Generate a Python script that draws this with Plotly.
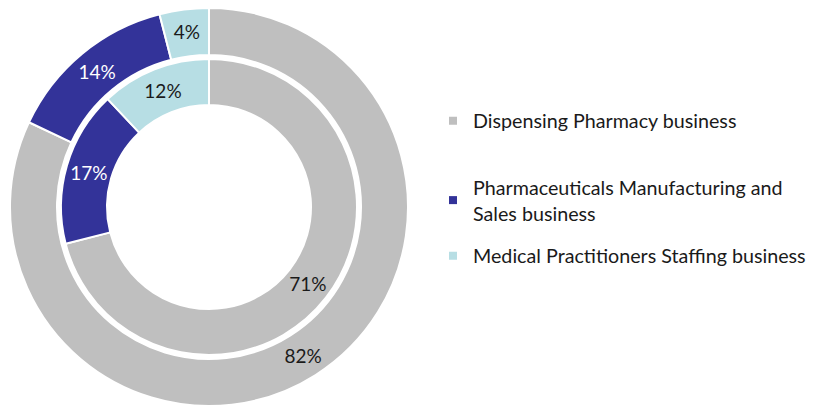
import plotly.graph_objects as go

labels = ["Dispensing Pharmacy business",
          "Pharmaceuticals Manufacturing and<br>Sales business",
          "Medical Practitioners Staffing business"]
outer_values = [82, 14, 4]
inner_values = [71, 17, 12]
colors = ["#BFBFBF", "#333399", "#B7DEE4"]
text_colors = ["#1A1A1A", "#FFFFFF", "#1A1A1A"]

W, H = 816, 400
mt, mb = 0, 2
ph = H - mt - mb
cx, cy = 201, 199   # pixel centre inside figure
R_out, R_in = 199, 148
FONT = "Lato"

def xdom(r):
    return [(cx - r) / W, (cx + r) / W]

def ydom(r):
    return [max(0, 1 - (cy + r - mt) / ph), min(1, 1 - (cy - r - mt) / ph)]

fig = go.Figure()
fig.add_trace(go.Pie(
    labels=labels, values=outer_values, hole=152 / 199, sort=False,
    direction="clockwise", rotation=0,
    marker=dict(colors=colors, line=dict(color="white", width=2)),
    texttemplate="%{value}%", textposition="inside",
    insidetextorientation="horizontal",
    insidetextfont=dict(color=text_colors, size=19, family=FONT),
    domain=dict(x=xdom(R_out), y=ydom(R_out)),
    showlegend=False, hoverinfo="label+value",
))
fig.add_trace(go.Pie(
    labels=labels, values=inner_values, hole=102 / 148, sort=False,
    direction="clockwise", rotation=0,
    marker=dict(colors=colors, line=dict(color="white", width=2)),
    texttemplate="%{value}%", textposition="inside",
    insidetextorientation="horizontal",
    insidetextfont=dict(color=text_colors, size=19, family=FONT),
    domain=dict(x=xdom(R_in), y=ydom(R_in)),
    showlegend=False, hoverinfo="label+value",
))

legend_names = ["legend", "legend2", "legend3"]
legend_centres = [113, 192.5, 248]   # pixel y of each legend entry centre
for lab, col, lg in zip(labels, colors, legend_names):
    fig.add_trace(go.Scatter(
        x=[None], y=[None], mode="markers", name=lab,
        marker=dict(symbol="square", size=8, color=col),
        legend=lg, showlegend=True, hoverinfo="skip",
    ))

leg_common = dict(xanchor="left", yanchor="middle",
                  font=dict(size=19.7, family=FONT, color="#1A1A1A"),
                  bgcolor="rgba(0,0,0,0)", itemclick=False, itemdoubleclick=False)
layout_legends = {}
for lg, yc in zip(legend_names, legend_centres):
    layout_legends[lg] = dict(x=425 / W, y=1 - (yc - mt) / ph, **leg_common)

fig.update_layout(
    width=W, height=H,
    margin=dict(l=0, r=0, t=mt, b=mb),
    paper_bgcolor="white", plot_bgcolor="white",
    font=dict(family=FONT, size=19, color="#1A1A1A"),
    xaxis=dict(visible=False), yaxis=dict(visible=False),
    **layout_legends,
)
fig.write_html("out.html")
